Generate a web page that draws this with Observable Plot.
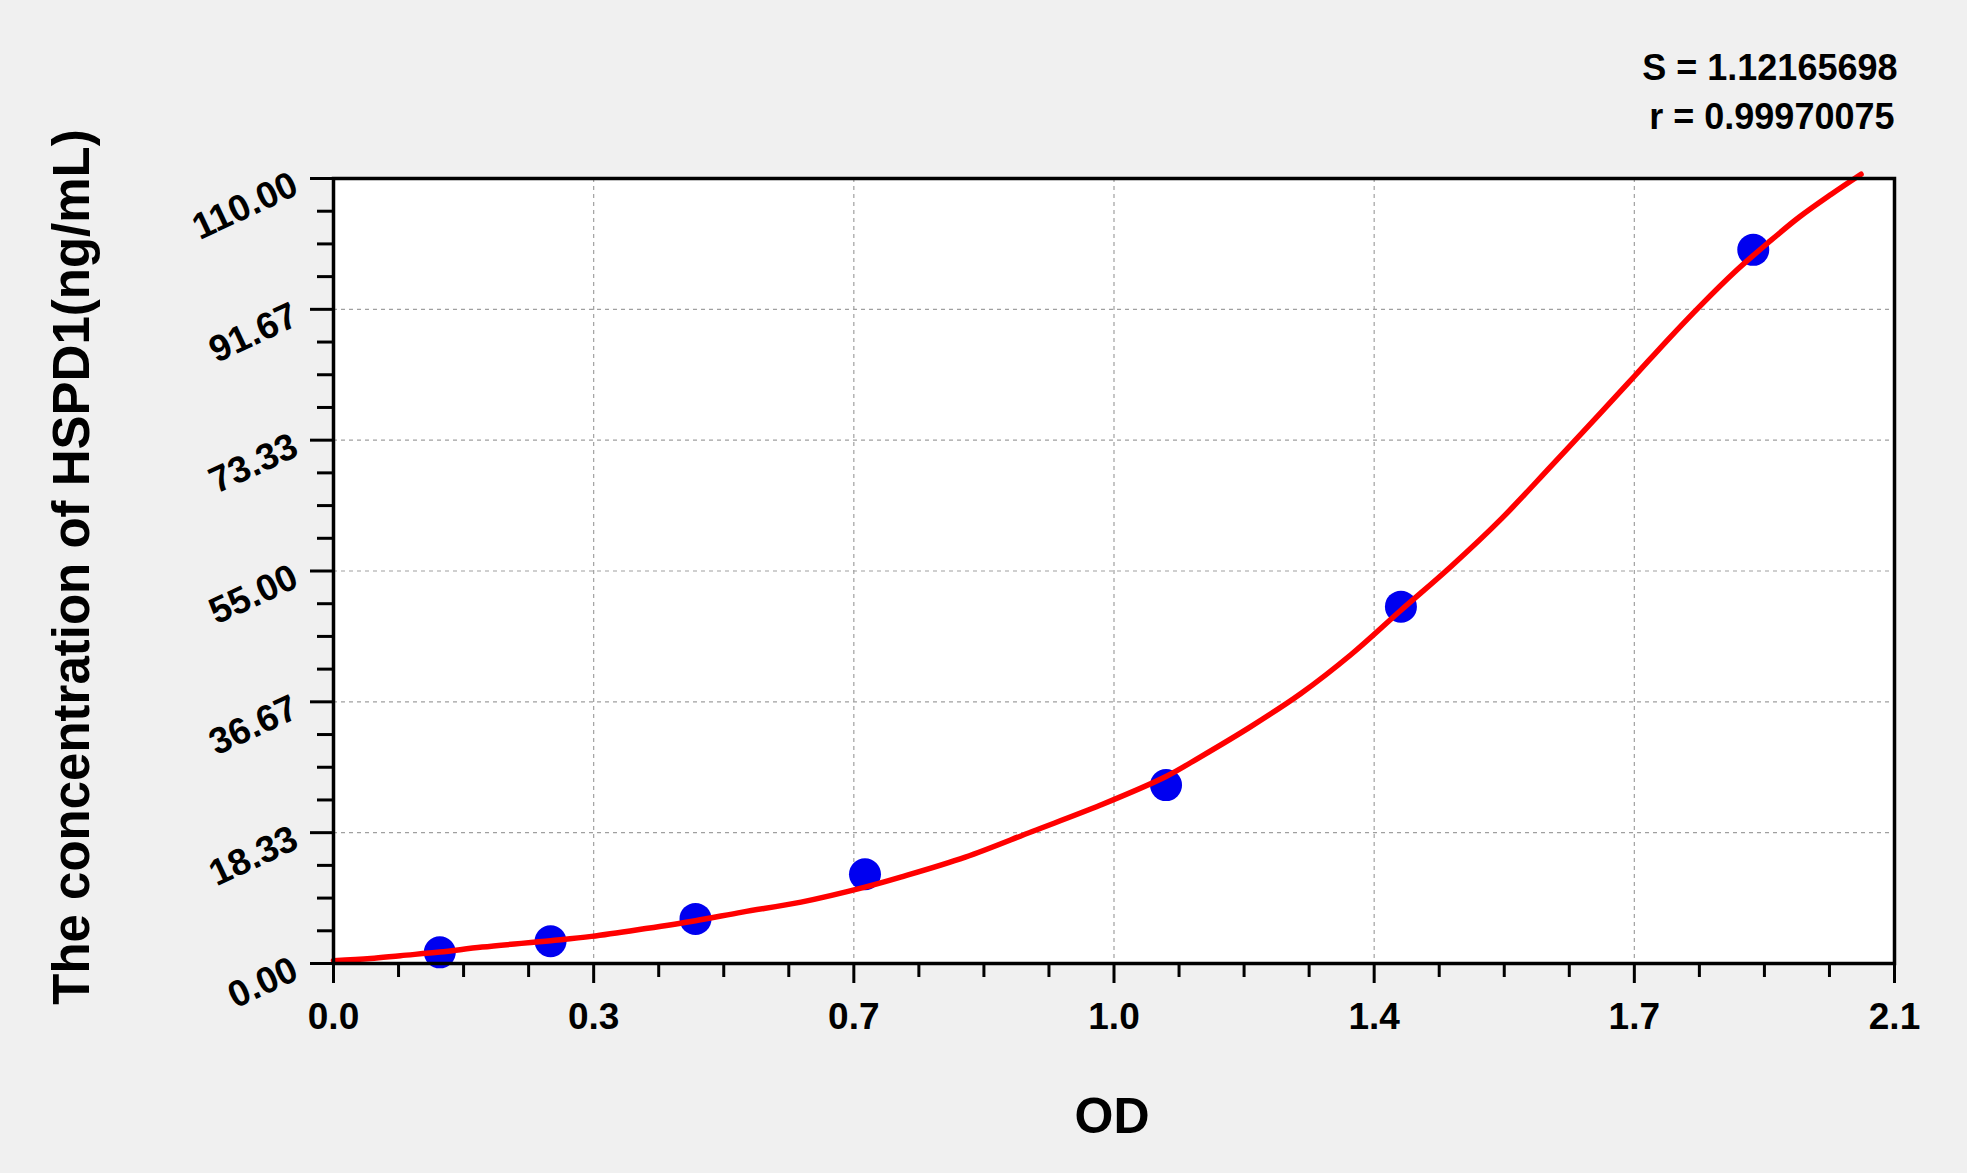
<!DOCTYPE html>
<html>
<head>
<meta charset="utf-8">
<script src="https://cdn.jsdelivr.net/npm/d3@7"></script>
<script src="https://cdn.jsdelivr.net/npm/@observablehq/plot@0.6"></script>
<style>
  html, body { margin: 0; padding: 0; background: #f0f0f0; overflow: hidden; }
  #chart svg { display: block; }
</style>
</head>
<body>
<div id="chart"></div>
<script>
// Standard points (OD vs concentration)
const pointOD   = [0.143, 0.292, 0.487, 0.715, 1.120, 1.436, 1.910];
const pointConc = [1.5625, 3.125, 6.25, 12.5, 25, 50, 100];

// Fitted curve
const curveOD   = [0, 0.05, 0.09, 0.143, 0.2, 0.292, 0.347, 0.42, 0.487, 0.55, 0.629, 0.715, 0.763, 0.85, 0.94, 1.032, 1.12, 1.167, 1.234, 1.301, 1.369, 1.436, 1.503, 1.571, 1.638, 1.705, 1.752, 1.795, 1.84, 1.885, 1.93, 1.972, 2.015, 2.055];
const curveConc = [0.4, 0.7, 1.1, 1.6, 2.3, 3.2, 3.8, 4.9, 6.0, 7.2, 8.6, 10.7, 12.1, 14.9, 18.5, 22.2, 26.2, 29.0, 33.2, 37.8, 43.3, 49.5, 55.6, 62.3, 69.7, 77.2, 82.5, 87.4, 92.3, 96.9, 101.0, 104.6, 107.8, 110.6];

// Axis ticks
const xMajor = [0, 0.35, 0.7, 1.05, 1.4, 1.75, 2.1];
const xTickLabels = ["0.0", "0.3", "0.7", "1.0", "1.4", "1.7", "2.1"];
const xMinor = d3.range(0, 24).map(i => i * 0.0875).filter((v, i) => i % 4 !== 0);
const yMajor = [0, 110/6, 220/6, 55, 440/6, 550/6, 110];
const yTickLabels = ["0.00", "18.33", "36.67", "55.00", "73.33", "91.67", "110.00"];
const yMinor = d3.range(0, 24).map(i => i * 110 / 24).filter((v, i) => i % 4 !== 0);

const statS = "S = 1.12165698";
const statR = "r = 0.99970075";
const xTitle = "OD";
const yTitle = "The concentration of HSPD1(ng/mL)";

const points = pointOD.map((od, i) => ({od, conc: pointConc[i]}));
const curve = curveOD.map((od, i) => ({od, conc: curveConc[i]}));
const xLab = xMajor.map((v, i) => ({v, label: xTickLabels[i]}));
const yLab = yMajor.map((v, i) => ({v, label: yTickLabels[i]}));

const FONT = "'Liberation Sans', Arial, Helvetica, sans-serif";

const chart = Plot.plot({
  width: 1967,
  height: 1173,
  marginLeft: 333,
  marginRight: 73,
  marginTop: 178,
  marginBottom: 210,
  style: {background: "#f0f0f0", fontFamily: FONT},
  x: {domain: [0, 2.1]},
  y: {domain: [0, 110]},
  marks: [
    Plot.frame({fill: "white", stroke: null}),
    Plot.gridX(xMajor.slice(1, -1), {stroke: "#a0a0a0", strokeOpacity: 1, strokeWidth: 1.2, strokeDasharray: "4,4"}),
    Plot.gridY(yMajor.slice(1, -1), {stroke: "#a0a0a0", strokeOpacity: 1, strokeWidth: 1.2, strokeDasharray: "4,4"}),
    Plot.dot(points, {x: "od", y: "conc", r: 16, fill: "#0000f0", stroke: null}),
    Plot.line(curve, {x: "od", y: "conc", stroke: "#ff0000", strokeWidth: 5.5, curve: "catmull-rom"}),
    Plot.axisX(xMajor, {anchor: "bottom", tickSize: 20, strokeWidth: 3, stroke: "black", tickFormat: () => "", label: null}),
    Plot.axisX(xMinor, {anchor: "bottom", tickSize: 14, strokeWidth: 3, stroke: "black", tickFormat: () => "", label: null}),
    Plot.axisY(yMajor, {anchor: "left", tickSize: 23, strokeWidth: 3, stroke: "black", tickFormat: () => "", label: null}),
    Plot.axisY(yMinor, {anchor: "left", tickSize: 16, strokeWidth: 3, stroke: "black", tickFormat: () => "", label: null}),
    Plot.frame({stroke: "black", strokeWidth: 3.5}),
    Plot.text(xLab, {x: "v", frameAnchor: "bottom", text: "label", dy: 65, lineAnchor: "bottom", textAnchor: "middle", fontSize: 37, fontWeight: "bold", fill: "black"}),
    Plot.text(yLab, {y: "v", frameAnchor: "left", text: "label", dx: -38, dy: 4, rotate: -25, textAnchor: "end", lineAnchor: "middle", fontSize: 37, fontWeight: "bold", fill: "black"}),
    Plot.text([xTitle], {frameAnchor: "bottom", text: d => d, dy: 169, dx: -2, lineAnchor: "bottom", textAnchor: "middle", fontSize: 50, fontWeight: "bold", fill: "black"}),
    Plot.text([yTitle], {frameAnchor: "left", text: d => d, dx: -245, dy: -4, rotate: -90, lineAnchor: "bottom", textAnchor: "middle", fontSize: 51, fontWeight: "bold", fill: "black"}),
    Plot.text([statS], {frameAnchor: "top-right", text: d => d, dx: 3, dy: -99, textAnchor: "end", lineAnchor: "bottom", fontSize: 36, fontWeight: "bold", fill: "black"}),
    Plot.text([statR], {frameAnchor: "top-right", text: d => d, dx: 0, dy: -50, textAnchor: "end", lineAnchor: "bottom", fontSize: 36, fontWeight: "bold", fill: "black"})
  ]
});
document.getElementById("chart").appendChild(chart);
</script>
</body>
</html>
